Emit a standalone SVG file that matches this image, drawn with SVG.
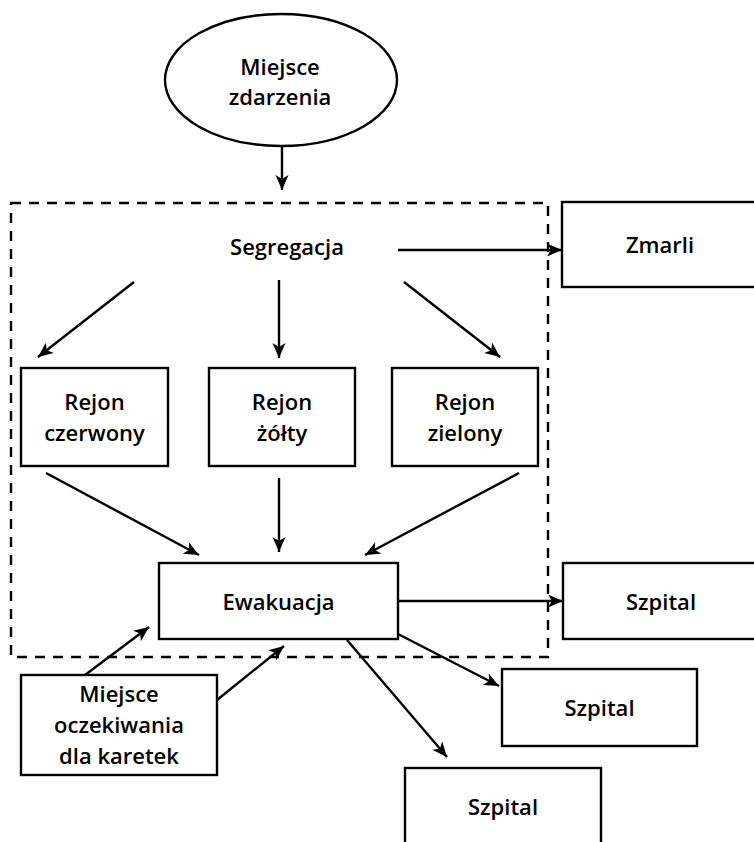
<svg xmlns="http://www.w3.org/2000/svg" width="754" height="842" viewBox="0 0 754 842">
  <defs>
    <marker id="arrow" markerUnits="userSpaceOnUse" markerWidth="18" markerHeight="14" refX="15" refY="6.5" orient="auto">
      <path d="M0,0 L15,6.5 L0,13 L4,6.5 Z" fill="#000"/>
    </marker>
    <style>
      .box { fill: #fff; stroke: #000; stroke-width: 2.4; }
      .frame { fill: none; stroke: #000; stroke-width: 2.4; stroke-dasharray: 10 8; }
      .edge { stroke: #000; stroke-width: 2.4; fill: none; marker-end: url(#arrow); }
      text { font-family: "Open Sans", "Noto Sans", "DejaVu Sans", sans-serif; font-size: 22px; font-weight: 600; fill: #000; text-anchor: middle; }
    </style>
  </defs>
  <rect width="754" height="842" fill="#fff"/>

  <!-- dashed segregation area -->
  <rect id="area" class="frame" x="11" y="203" width="537" height="454"/>

  <g id="miejsce-zdarzenia">
    <ellipse class="box" cx="281" cy="80" rx="116" ry="66"/>
    <text x="280" y="75">Miejsce</text>
    <text x="280" y="105">zdarzenia</text>
  </g>

  <g id="segregacja">
    <text x="287" y="255">Segregacja</text>
  </g>

  <g id="zmarli">
    <rect class="box" x="562" y="202" width="200" height="85"/>
    <text x="660" y="253">Zmarli</text>
  </g>

  <g id="rejon-czerwony">
    <rect class="box" x="21" y="368" width="147" height="98"/>
    <text x="94.5" y="410">Rejon</text>
    <text x="94.5" y="441">czerwony</text>
  </g>

  <g id="rejon-zolty">
    <rect class="box" x="209" y="368" width="146" height="98"/>
    <text x="282" y="410">Rejon</text>
    <text x="282" y="441">żółty</text>
  </g>

  <g id="rejon-zielony">
    <rect class="box" x="392" y="368" width="146" height="98"/>
    <text x="465" y="410">Rejon</text>
    <text x="465" y="441">zielony</text>
  </g>

  <g id="ewakuacja">
    <rect class="box" x="159" y="563" width="239" height="76"/>
    <text x="278.5" y="610">Ewakuacja</text>
  </g>

  <g id="szpital-1">
    <rect class="box" x="563" y="563" width="200" height="76"/>
    <text x="661" y="610">Szpital</text>
  </g>

  <g id="szpital-2">
    <rect class="box" x="502" y="669" width="195" height="77"/>
    <text x="599.5" y="716">Szpital</text>
  </g>

  <g id="szpital-3">
    <rect class="box" x="405" y="768" width="196" height="90"/>
    <text x="503" y="815">Szpital</text>
  </g>

  <g id="miejsce-oczekiwania">
    <rect class="box" x="21" y="675" width="196" height="100"/>
    <text x="119" y="702">Miejsce</text>
    <text x="119" y="733">oczekiwania</text>
    <text x="119" y="764">dla karetek</text>
  </g>

  <g id="connectors">
    <line class="edge" x1="282" y1="146" x2="282" y2="190"/>
    <line class="edge" x1="398" y1="250" x2="562" y2="250"/>
    <line class="edge" x1="134" y1="282" x2="38" y2="357"/>
    <line class="edge" x1="279" y1="280" x2="279" y2="358"/>
    <line class="edge" x1="404" y1="282" x2="500" y2="357"/>
    <line class="edge" x1="46" y1="473" x2="199" y2="555"/>
    <line class="edge" x1="279" y1="478" x2="279" y2="552"/>
    <line class="edge" x1="519" y1="473" x2="365" y2="555"/>
    <line class="edge" x1="398" y1="601" x2="563" y2="601"/>
    <line class="edge" x1="398" y1="634" x2="499" y2="686"/>
    <line class="edge" x1="347" y1="640" x2="447" y2="757"/>
    <line class="edge" x1="85" y1="675" x2="149" y2="627"/>
    <line class="edge" x1="217" y1="700" x2="284" y2="646"/>
  </g>
</svg>
